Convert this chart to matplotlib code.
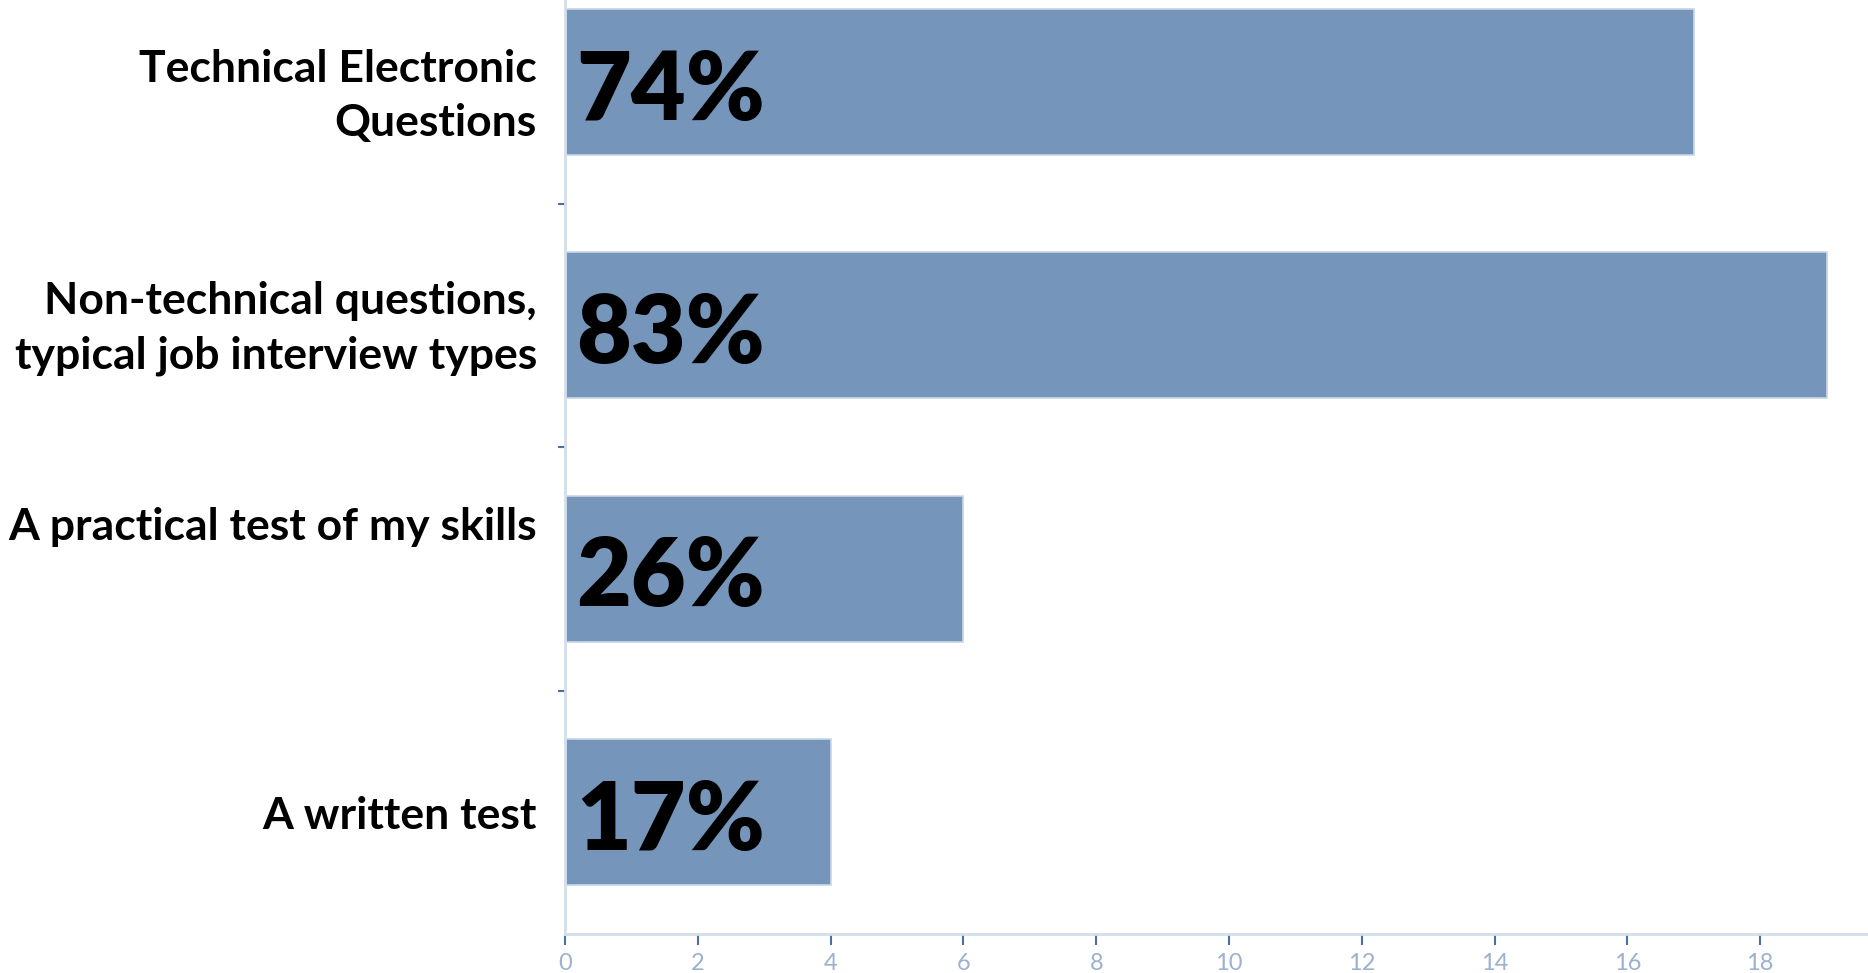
import numpy as np
import matplotlib
matplotlib.use("Agg")
import matplotlib.pyplot as plt
from matplotlib.transforms import blended_transform_factory, offset_copy

plt.rcParams["font.family"] = ["Lato", "DejaVu Sans"]

# data
categories = [
    "Technical Electronic\nQuestions",
    "Non-technical questions,\ntypical job interview types",
    "A practical test of my skills",
    "A written test",
]
counts = [17, 19, 6, 4]
percent_labels = ["74%", "83%", "26%", "17%"]
x_ticks = [0, 2, 4, 6, 8, 10, 12, 14, 16, 18]

# layout only: vertical nudges (in px) of the category text boxes
label_nudge_px = [-14, -3, 42, -4]

bar_color = "#7595ba"
edge_color = "#c9d7e8"
spine_color = "#d3deeb"
tick_color = "#4a6fa0"
ticklabel_color = "#9cb1cd"

fig = plt.figure(figsize=(18.68, 9.73), dpi=100)
ax = fig.add_axes([565 / 1868, 39 / 973, 1 - 565 / 1868, 1 - 39 / 973])

ypos = np.arange(len(categories))
ax.barh(ypos, counts, height=0.6, color=bar_color, edgecolor=edge_color,
        linewidth=1.2, zorder=2)

ax.set_xlim(0, 1303 / 66.4)
ax.set_ylim(3.5, -0.337)

# big percentage text inside the bars
for y, txt in zip(ypos, percent_labels):
    ax.annotate(txt, xy=(0, y), xytext=(8, -27), textcoords="offset points",
                ha="left", va="baseline", fontsize=68, fontweight="heavy",
                color="black", zorder=3)

# category labels placed left of the axis
trans = blended_transform_factory(ax.transAxes, ax.transData)
for y, txt, dy in zip(ypos, categories, label_nudge_px):
    t = offset_copy(trans, fig=fig, x=-28, y=dy, units="dots")
    ax.text(0, y, txt, transform=t, ha="right", va="center",
            multialignment="right", fontsize=32, fontweight="bold",
            color="black", linespacing=1.42)

ax.set_yticks([0.5, 1.5, 2.5])
ax.set_yticklabels([])
ax.tick_params(axis="y", direction="out", length=5, width=1.5, color=tick_color)

ax.set_xticks(x_ticks)
ax.set_xticklabels([str(v) for v in x_ticks])
ax.tick_params(axis="x", direction="out", length=8, width=1.5, color=tick_color,
               labelcolor=ticklabel_color, labelsize=17, pad=6)

for s in ["top", "right"]:
    ax.spines[s].set_visible(False)
for s in ["left", "bottom"]:
    ax.spines[s].set_color(spine_color)
    ax.spines[s].set_linewidth(2)

fig.savefig("out.png", dpi=100, facecolor="white")
